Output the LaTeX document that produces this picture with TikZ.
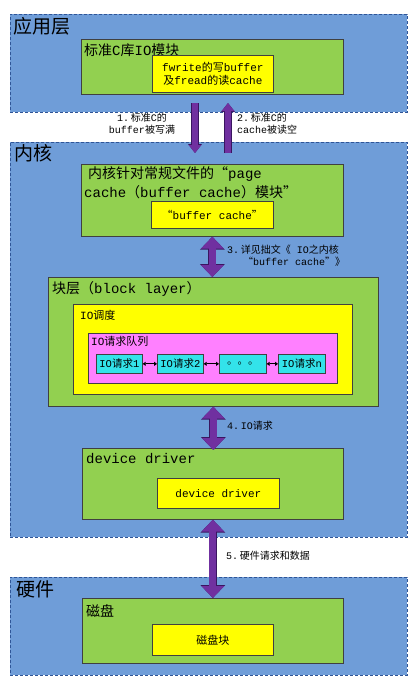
\documentclass[tikz,border=0pt]{standalone}
\usepackage{fontspec}
\setmainfont{Liberation Mono}
\newfontfamily\cjk{Noto Sans CJK SC}
\usetikzlibrary{arrows.meta}
\newcommand\zh[1]{{\cjk #1}}
\definecolor{layerblue}{HTML}{6F9DD8}
\definecolor{boxgreen}{HTML}{92D050}
\definecolor{hlyellow}{HTML}{FFFF00}
\definecolor{qmagenta}{HTML}{FF80FF}
\definecolor{reqcyan}{HTML}{33E3EA}
\definecolor{apurple}{HTML}{7030A0}
\definecolor{adark}{HTML}{3A1560}
\definecolor{dashblue}{HTML}{2F5597}
\begin{document}
\begin{tikzpicture}[x=1pt,y=-1pt,
  layer/.style={draw=dashblue, fill=layerblue, line width=0.9pt, dash pattern=on 3pt off 2pt, anchor=north west, inner sep=0pt},
  gbox/.style={draw=black!75, fill=boxgreen, line width=0.7pt, anchor=north west, inner sep=0pt},
  ybox/.style={draw=black!75, fill=hlyellow, line width=0.7pt, anchor=north west, inner sep=0pt, font=\fontsize{11}{13.5}\selectfont, align=center},
  mbox/.style={draw=black!75, fill=qmagenta, line width=0.7pt, anchor=north west, inner sep=0pt},
  cbox/.style={draw=black!75, fill=reqcyan, line width=0.7pt, anchor=north west, inner sep=0pt, minimum height=19pt, font=\fontsize{10.5}{12}\selectfont},
  bigtitle/.style={anchor=west, inner sep=0pt, font=\fontsize{19}{21}\selectfont},
  gtitle/.style={anchor=west, inner sep=0pt, font=\fontsize{14}{17}\selectfont},
  stitle/.style={anchor=west, inner sep=0pt, font=\fontsize{11}{12}\selectfont},
  lbl/.style={inner sep=0pt, font=\fontsize{10}{12}\selectfont},
  bigdarrow/.style={apurple, line width=7pt, {Triangle[width=22pt,length=12pt]}-{Triangle[width=22pt,length=12pt]},
    preaction={draw=adark, line width=8.2pt, {Triangle[width=24pt,length=13pt]}-{Triangle[width=24pt,length=13pt]}}},
  smallarrow/.style={apurple, line width=6pt, -{Triangle[width=12pt,length=8pt]},
    preaction={draw=adark, line width=7.2pt, -{Triangle[width=13.5pt,length=9pt]}}},
  link/.style={black, line width=0.8pt, {Triangle[width=4pt,length=3pt]}-{Triangle[width=4pt,length=3pt]}}
]
\fill[white] (0,0) rectangle (415,683);
\useasboundingbox (0,0) rectangle (415,683);

% ---------- application layer ----------
\node[layer, minimum width=397pt, minimum height=98pt] (app) at (10,14) {};
\node[bigtitle] (appt) at (13,26) {\zh{应用层}};
\node[gbox, minimum width=262pt, minimum height=55pt] (clib) at (81,39) {};
\node[gtitle] (clibt) at (84,50) {\zh{标准}C\zh{库}IO\zh{模块}};
\node[ybox, minimum width=121pt, minimum height=37pt] (clibin) at (152,55) {fwrite\zh{的写}buffer\\\zh{及}fread\zh{的读}cache};

% ---------- kernel ----------
\node[layer, minimum width=397pt, minimum height=395pt] (kern) at (10,142) {};
\node[bigtitle] (kernt) at (14,153) {\zh{内核}};

\node[gbox, minimum width=262pt, minimum height=72pt] (pc) at (81,164) {};
\node[gtitle] (pct1) at (88,174) {\zh{内核针对常规文件的“}page};
\node[gtitle] (pct2) at (84,192) {cache\zh{（}buffer cache\zh{）模块”}};
\node[ybox, minimum width=122pt, minimum height=27pt] (pcin) at (151,201) {\zh{“}buffer cache\zh{”}};

\node[gbox, minimum width=330pt, minimum height=129pt] (blk) at (48,277) {};
\node[gtitle] (blkt) at (52,289) {\zh{块层（}block layer\zh{）}};
\node[ybox, minimum width=279pt, minimum height=90pt] (sched) at (73,304) {};
\node[stitle] (schedt) at (80,315) {IO\zh{调度}};
\node[mbox, minimum width=249pt, minimum height=50pt] (queue) at (88,333) {};
\node[stitle] (queuet) at (91,341) {IO\zh{请求队列}};
\node[cbox, minimum width=46pt] (r1) at (96,354) {IO\zh{请求}1};
\node[cbox, minimum width=46pt] (r2) at (157,354) {IO\zh{请求}2};
\node[cbox, minimum width=47pt] (r3) at (219,354) {\zh{。。。}};
\node[cbox, minimum width=47pt] (r4) at (278,354) {IO\zh{请求}n};
\draw[link] (r1) -- (r2);
\draw[link] (r2) -- (r3);
\draw[link] (r3) -- (r4);

\node[gbox, minimum width=261pt, minimum height=71pt] (dd) at (82,448) {};
\node[gtitle] (ddt) at (86,459) {device driver};
\node[ybox, minimum width=122pt, minimum height=30pt] (ddin) at (157,478) {device driver};

% ---------- hardware ----------
\node[layer, minimum width=397pt, minimum height=98pt] (hw) at (10,577) {};
\node[bigtitle] (hwt) at (16,589) {\zh{硬件}};
\node[gbox, minimum width=261pt, minimum height=65pt] (disk) at (82,598) {};
\node[gtitle] (diskt) at (86,611) {\zh{磁盘}};
\node[ybox, minimum width=121pt, minimum height=31pt] (diskin) at (152,624) {\zh{磁盘块}};

% ---------- connectors ----------
\coordinate (a1s) at (195,103);
\coordinate (a1e) at (195,153);
\coordinate (a2s) at (228,153);
\coordinate (a2e) at (228,103);
\draw[smallarrow] (a1s) -- (a1e);
\draw[smallarrow] (a2s) -- (a2e);
\node[lbl, align=center] (l1) at (142,124) {1.\,\zh{标准}C\zh{的}\\buffer\zh{被写满}};
\node[lbl, align=left, anchor=west] (l2) at (237,124) {2.\,\zh{标准}C\zh{的}\\cache\zh{被读空}};

\draw[bigdarrow] (pc.south) -- (pc.south |- blk.north);
\node[lbl, align=left, anchor=west] (l3) at (227,256) {3.\,\zh{详见拙文《} IO\zh{之内核}\\\hspace*{16pt}\zh{“}buffer cache\zh{”》}};

\draw[bigdarrow] (blk.south) -- ([yshift=-2pt]blk.south |- dd.north);
\node[lbl, anchor=west] (l4) at (227,426) {4.\,IO\zh{请求}};

\draw[bigdarrow] (dd.south) -- (dd.south |- disk.north);
\node[lbl, anchor=west] (l5) at (226,556) {5.\,\zh{硬件请求和数据}};
\end{tikzpicture}
\end{document}
